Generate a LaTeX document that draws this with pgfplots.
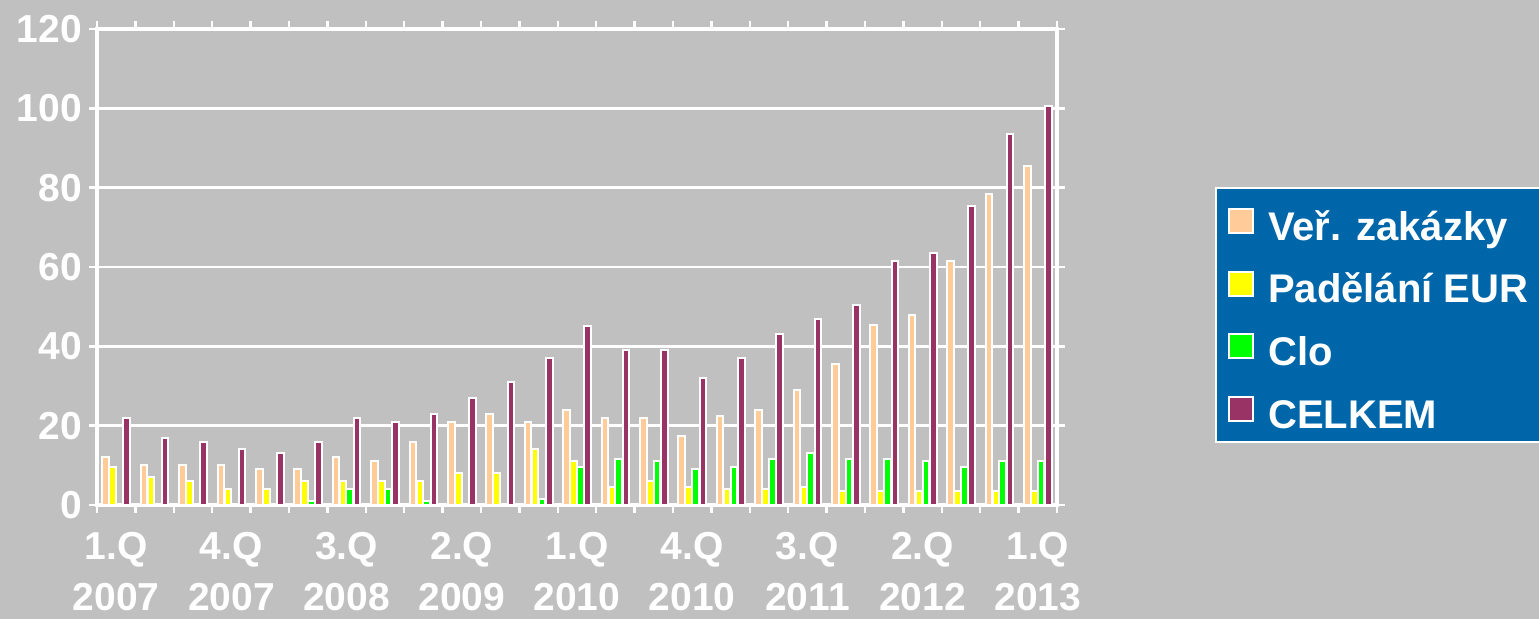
\documentclass[border=0pt]{standalone}
\usepackage{pgfplots}
\pgfplotsset{compat=1.18}
\usepackage{pgfplotstable}
\usepackage{fontspec}
\setmainfont{Liberation Sans}
\definecolor{bg}{HTML}{C0C0C0}
\definecolor{cpeach}{HTML}{FFCC99}
\definecolor{cyellow}{HTML}{FFFF00}
\definecolor{cgreen}{HTML}{00FF00}
\definecolor{cpurple}{HTML}{993366}
\definecolor{cblue}{HTML}{0066AA}
\pgfplotstableread{
i ver pad clo cel
0 12 9.5 0 22
1 10 7 0 17
2 10 6 0 16
3 10 4 0 14
4 9 4 0 13
5 9 6 1 16
6 12 6 4 22
7 11 6 4 21
8 16 6 1 23
9 21 8 0 27
10 23 8 0 31
11 21 14 1.5 37
12 24 11 9.5 45
13 22 4.5 11.5 39
14 22 6 11 39
15 17.5 4.5 9 32
16 22.5 4 9.5 37
17 24 4 11.5 43
18 29 4.5 13 47
19 35.5 3.5 11.5 50.5
20 45.5 3.5 11.5 61.5
21 48 3.5 11 63.5
22 61.5 3.5 9.5 75.5
23 78.5 3.5 11 93.5
24 85.5 3.5 11 100.5
}\data
\begin{document}
\begin{tikzpicture}[font=\fontsize{19.5}{26}\selectfont\bfseries]
\path[use as bounding box] (0,0) rectangle (769.5pt,309.5pt);
\fill[bg] (0,0) rectangle (769.5pt,309.5pt);
\begin{axis}[
  at={(48.5pt,57pt)}, anchor=south west,
  scale only axis, width=480pt, height=238pt,
  xmin=-0.5, xmax=24.5, ymin=0, ymax=120,
  ytick={0,20,...,120},
  xtick={-0.5,0.5,...,24.5},
  xticklabels={},
  extra x ticks={0,3,...,24},
  extra x tick labels={{1.Q\\2007},{4.Q\\2007},{3.Q\\2008},{2.Q\\2009},{1.Q\\2010},{4.Q\\2010},{3.Q\\2011},{2.Q\\2012},{1.Q\\2013}},
  extra x tick style={major tick length=0pt, grid=none},
  xticklabel style={align=center, anchor=north, inner sep=0pt, yshift=-13.5pt},
  /pgf/number format/assume math mode=true,
  tick label style={text=white, font=\fontsize{19.5}{25.5}\selectfont\bfseries},
  tick align=outside,
  major tick length=4pt,
  tick style={white, line width=1.2pt},
  axis line style={white, line width=1.8pt},
  ymajorgrids,
  grid style={white, line width=1.2pt},
  axis background/.style={fill=bg},
  legend image code/.code={\draw[#1, draw=white, line width=1pt] (0pt,-6pt) rectangle (12pt,6pt);},
  legend cell align=left,
  legend style={at={(1.1646,0.668)}, anchor=north west, fill=cblue, draw=white, line width=1.2pt,
    text=white, font=\fontsize{20}{24}\selectfont\bfseries,
    nodes={text height=20pt, text depth=1pt, inner ysep=2pt, inner xsep=2pt},
    column sep=5pt,
    row sep=6.3pt, inner xsep=6pt, inner ysep=4pt},
]
\addplot[ybar, bar width=3.3pt, bar shift=-5.25pt, fill=cpeach, draw=white, line width=1pt] table[x=i, y=ver] {\data};
\addplot[ybar, bar width=3.3pt, bar shift=-1.75pt, fill=cyellow, draw=white, line width=1pt] table[x=i, y=pad] {\data};
\addplot[ybar, bar width=3.3pt, bar shift=1.6pt, fill=cgreen, draw=white, line width=1pt] table[x=i, y=clo] {\data};
\addplot[ybar, bar width=3.3pt, bar shift=5.3pt, fill=cpurple, draw=white, line width=1pt] table[x=i, y=cel] {\data};
\legend{Veř. zakázky, Padělání EUR, Clo, CELKEM}
\end{axis}
\end{tikzpicture}
\end{document}
